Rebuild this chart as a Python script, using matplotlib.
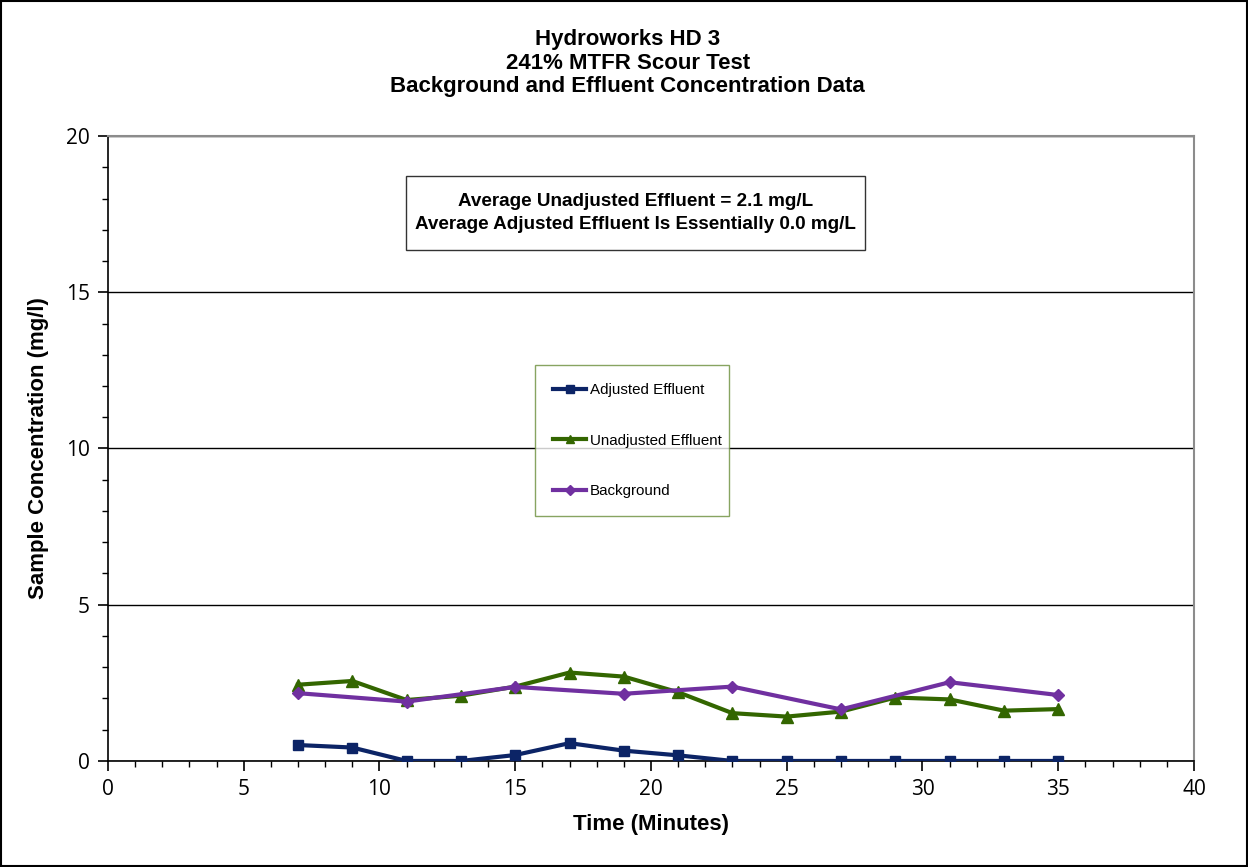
import numpy as np
import matplotlib.pyplot as plt
from matplotlib.patches import Rectangle
from matplotlib.ticker import MultipleLocator

# sample times (minutes)
time = [7, 9, 11, 13, 15, 17, 19, 21, 23, 25, 27, 29, 31, 33, 35]
adjusted = [0.51, 0.43, 0.0, 0.0, 0.19, 0.57, 0.33, 0.18, 0.0, 0.0, 0.0, 0.0, 0.0, 0.0, 0.0]
unadjusted = [2.44, 2.56, 1.95, 2.09, 2.38, 2.83, 2.70, 2.20, 1.53, 1.42, 1.58, 2.03, 1.97, 1.61, 1.66]

# background sampled every 4 minutes
bg_time = [7, 11, 15, 19, 23, 27, 31, 35]
background = [2.17, 1.90, 2.37, 2.15, 2.38, 1.65, 2.52, 2.11]

title = "Hydroworks HD 3\n241% MTFR Scour Test\nBackground and Effluent Concentration Data"
note = "Average Unadjusted Effluent = 2.1 mg/L\nAverage Adjusted Effluent Is Essentially 0.0 mg/L"

bold = ["Liberation Sans", "DejaVu Sans"]
tickfont = ["Open Sans", "DejaVu Sans"]

fig = plt.figure(figsize=(12.48, 8.67), dpi=100)
ax = fig.add_axes([0.0865, 0.1223, 0.8702, 0.7208])

ax.plot(time, adjusted, color="#0c2466", lw=3, marker="s", ms=7, label="Adjusted Effluent", zorder=3)
ax.plot(time, unadjusted, color="#336600", lw=3, marker="^", ms=8, label="Unadjusted Effluent", zorder=3)
ax.plot(bg_time, background, color="#7030a0", lw=3, marker="D", ms=6.5, label="Background", zorder=3)

ax.set_xlim(0, 40)
ax.set_ylim(0, 20)
ax.xaxis.set_major_locator(MultipleLocator(5))
ax.xaxis.set_minor_locator(MultipleLocator(1))
ax.yaxis.set_major_locator(MultipleLocator(5))
ax.yaxis.set_minor_locator(MultipleLocator(1))
ax.tick_params(which="major", direction="out", length=7, width=1.2, labelsize=15, pad=6)
ax.tick_params(which="minor", direction="out", length=4, width=1.0)
for lab in ax.get_xticklabels() + ax.get_yticklabels():
    lab.set_family(tickfont)
ax.grid(axis="y", which="major", color="#000000", lw=1)
ax.set_axisbelow(True)
for s in ["top", "right"]:
    ax.spines[s].set_color("#8c8c8c")
    ax.spines[s].set_linewidth(1.5)
for s in ["left", "bottom"]:
    ax.spines[s].set_linewidth(1.2)

ax.set_xlabel("Time (Minutes)", family=bold, fontweight="bold", fontsize=16, labelpad=10)
ax.set_ylabel("Sample Concentration (mg/l)", family=bold, fontweight="bold", fontsize=16, labelpad=12)

fig.text(0.503, 0.966, title, ha="center", va="top", family=bold, fontweight="bold",
         fontsize=16, linespacing=1.15)

# annotation box, drawn as a frame with the text centred in it
fig.patches.append(Rectangle((0.3253, 0.7116), 0.3678, 0.0854, transform=fig.transFigure,
                             fc="white", ec="#333333", lw=1, zorder=4))
fig.text(0.509, 0.7543, note, ha="center", va="center", zorder=5,
         family=bold, fontweight="bold", fontsize=13.6, linespacing=1.5)

leg = ax.legend(loc="center", bbox_to_anchor=(0.4287, 0.4048, 0.1554, 0.174),
                bbox_transform=fig.transFigure, mode="expand", frameon=True, fancybox=False,
                borderaxespad=0,
                prop={"family": "Liberation Sans", "size": 10.9}, handlelength=2.2,
                handletextpad=0.2, labelspacing=2.4, borderpad=1.2, markerscale=0.8)
leg.get_frame().set_edgecolor("#6b8e3a")
leg.get_frame().set_linewidth(1)

fig.patches.append(Rectangle((0.0008, 0.0012), 0.9984, 0.9976, transform=fig.transFigure,
                             fill=False, ec="black", lw=1.5))

fig.savefig("out.png", dpi=100)
